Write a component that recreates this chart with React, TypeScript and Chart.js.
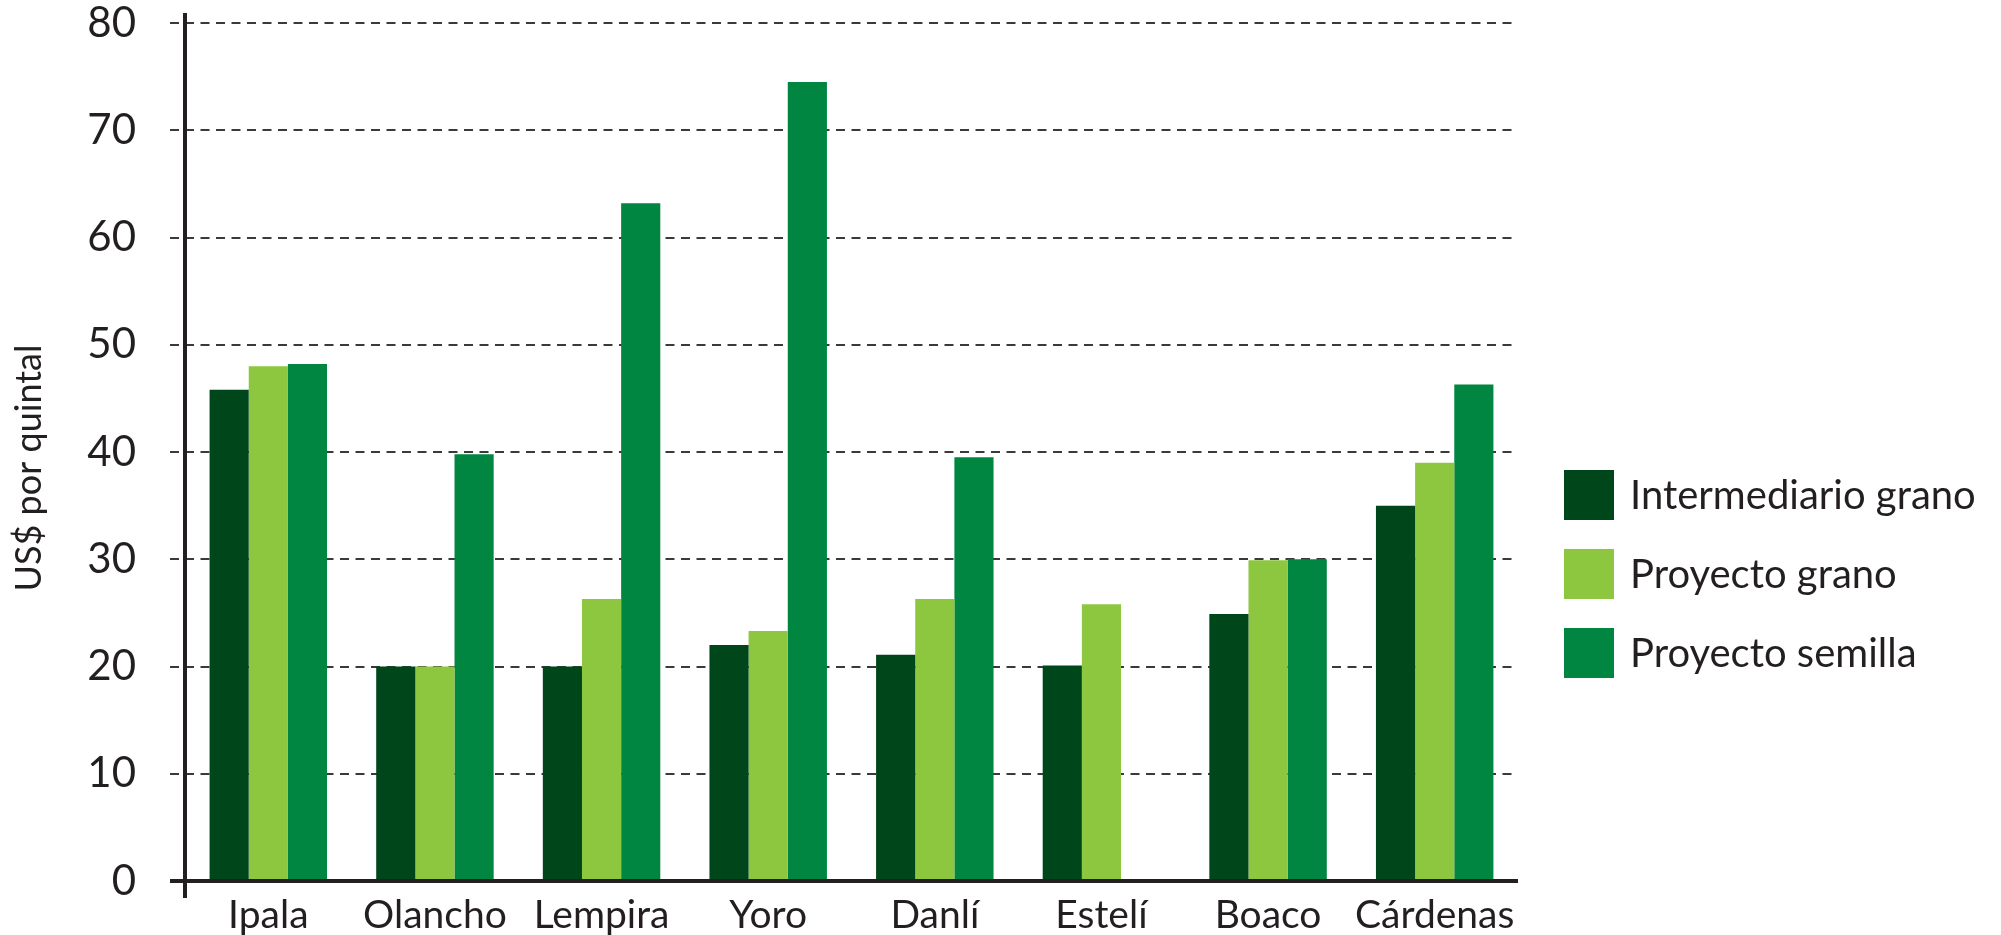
import React, { useEffect, useRef } from "react";
import { Chart, registerables } from "chart.js";

Chart.register(...registerables);

const categories = ["Ipala", "Olancho", "Lempira", "Yoro", "Danlí", "Estelí", "Boaco", "Cárdenas"];
const seriesNames = ["Intermediario grano", "Proyecto grano", "Proyecto semilla"];
const intermediarioGrano = [45.8, 20.0, 20.0, 22.0, 21.1, 20.1, 24.9, 35.0];
const proyectoGrano = [48.0, 20.0, 26.3, 23.3, 26.3, 25.8, 29.9, 39.0];
const proyectoSemilla = [48.2, 39.8, 63.2, 74.5, 39.5, null, 30.0, 46.3];
const seriesColors = ["#00461B", "#8DC63F", "#008641"];
const yTicks = [0, 10, 20, 30, 40, 50, 60, 70, 80];
const yTitle = "US$ por quintal";

const INK = "#231f20";
const FONT = "Lato";

const axisPlugin = {
  id: "axisLines",
  afterDatasetsDraw(chart: any) {
    const { ctx, chartArea } = chart;
    ctx.save();
    ctx.strokeStyle = INK;
    ctx.lineWidth = 4;
    ctx.setLineDash([]);
    ctx.beginPath();
    ctx.moveTo(chartArea.left - 15, chartArea.bottom);
    ctx.lineTo(chartArea.right, chartArea.bottom);
    ctx.stroke();
    ctx.beginPath();
    ctx.moveTo(chartArea.left, chartArea.top - 10);
    ctx.lineTo(chartArea.left, chartArea.bottom + 17);
    ctx.stroke();
    ctx.restore();
  },
};

const titlePlugin = {
  id: "yTitle",
  afterDraw(chart: any) {
    const { ctx, chartArea } = chart;
    ctx.save();
    ctx.translate(29, (chartArea.top + chartArea.bottom) / 2 + 16);
    ctx.rotate(-Math.PI / 2);
    ctx.font = `36px ${FONT}`;
    ctx.fillStyle = INK;
    ctx.textAlign = "center";
    ctx.textBaseline = "middle";
    ctx.fillText(yTitle, 0, 0);
    ctx.restore();
  },
};

const legendPlugin = {
  id: "sideLegend",
  afterDraw(chart: any) {
    const { ctx, chartArea } = chart;
    const boxX = chartArea.right + 46;
    const box = 50;
    const firstTop = chartArea.top + 447;
    const step = 79;
    ctx.save();
    ctx.font = `40px ${FONT}`;
    ctx.textBaseline = "middle";
    ctx.textAlign = "left";
    chart.data.datasets.forEach((ds: any, i: number) => {
      const top = firstTop + i * step;
      ctx.fillStyle = ds.backgroundColor;
      ctx.fillRect(boxX, top, box, box);
      ctx.fillStyle = INK;
      ctx.fillText(ds.label, boxX + box + 16, top + box / 2 + 1);
    });
    ctx.restore();
  },
};

export default function App() {
  const ref = useRef<HTMLCanvasElement>(null);

  useEffect(() => {
    if (!ref.current) return;
    const seriesData = [intermediarioGrano, proyectoGrano, proyectoSemilla];
    const chart = new Chart(ref.current, {
      type: "bar",
      data: {
        labels: categories,
        datasets: seriesNames.map((name, i) => ({
          label: name,
          data: seriesData[i],
          backgroundColor: seriesColors[i],
          borderWidth: 0,
          categoryPercentage: 0.705,
          barPercentage: 1.0,
        })),
      },
      options: {
        responsive: false,
        animation: false,
        layout: { padding: { top: 23, right: 483, bottom: 0, left: 0 } },
        plugins: {
          legend: { display: false },
          tooltip: { enabled: false },
          title: { display: false },
        },
        scales: {
          x: {
            grid: { display: false, drawTicks: false },
            border: { display: false },
            ticks: {
              color: INK,
              font: { family: FONT, size: 39 },
              padding: 11,
              maxRotation: 0,
              autoSkip: false,
            },
            afterFit(scale: any) {
              scale.height = 54;
              scale.paddingLeft = 0;
              scale.paddingRight = 0;
            },
          },
          y: {
            min: 0,
            max: 80,
            afterBuildTicks(scale: any) {
              scale.ticks = yTicks.map((v) => ({ value: v }));
            },
            grid: {
              color: "#3a3a3a",
              lineWidth: 2,
              tickLength: 15,
              tickColor: "#3a3a3a",
              tickWidth: 2,
              tickBorderDash: [9, 6.5],
            },
            border: { display: false, dash: [9, 6.5] },
            ticks: {
              color: INK,
              font: { family: FONT, size: 42 },
              padding: 34,
            },
            title: { display: false },
            afterFit(scale: any) {
              scale.width = 185;
              scale.paddingTop = 0;
              scale.paddingBottom = 0;
            },
          },
        },
      },
      plugins: [axisPlugin, titlePlugin, legendPlugin],
    } as any);
    return () => chart.destroy();
  }, []);

  return (
    <div style={{ position: "absolute", left: 0, top: 0, width: 2001, height: 935, background: "#fff" }}>
      <canvas ref={ref} width={2001} height={935} style={{ width: 2001, height: 935, display: "block" }} />
    </div>
  );
}
